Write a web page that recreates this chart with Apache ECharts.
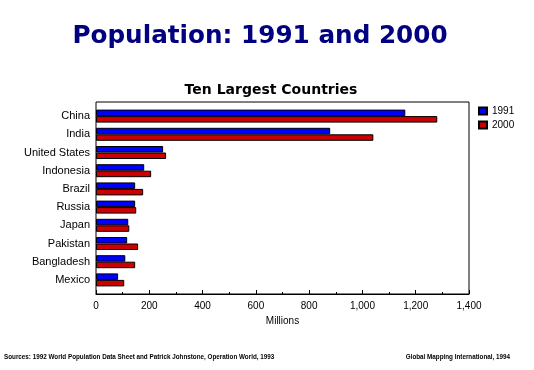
<!DOCTYPE html>
<html><head><meta charset="utf-8">
<script src="https://cdn.jsdelivr.net/npm/echarts@6/dist/echarts.min.js"></script>
<style>html,body{margin:0;padding:0;background:#fff}#c{width:534px;height:370px}</style>
</head><body><div id="c"></div>
<script>
const categories = ['China','India','United States','Indonesia','Brazil','Russia','Japan','Pakistan','Bangladesh','Mexico'];
const pop1991 = [1161, 879, 252, 181, 147, 147, 121, 117, 110, 83];
const pop2000 = [1281, 1041, 263, 207, 177, 151, 125, 158, 147, 106];
const seriesNames = ['1991', '2000'];
const xTicks = [0, 200, 400, 600, 800, 1000, 1200, 1400];

const chart = echarts.init(document.getElementById('c'), null, {renderer: 'canvas'});
const F = 'Liberation Sans, Arial, sans-serif';
chart.setOption({
  animation: false,
  backgroundColor: '#fff',
  title: [
    {text: 'Population: 1991 and 2000', left: 255, textAlign: 'center', top: 19,
     textStyle: {fontFamily: 'DejaVu Sans', fontWeight: 'bold', fontSize: 24.7, color: '#000080'}},
    {text: 'Ten Largest Countries', left: 266, textAlign: 'center', top: 78,
     textStyle: {fontFamily: 'DejaVu Sans', fontWeight: 'bold', fontSize: 14, color: '#000'}}
  ],
  legend: {
    data: seriesNames, orient: 'vertical', left: 473, top: 101,
    itemWidth: 8, itemHeight: 7, itemGap: 4, icon: 'rect',
    textStyle: {fontFamily: F, fontSize: 10, color: '#000'}
  },
  grid: [
    {left: 96, right: 65, top: 102, bottom: 76, show: true, borderColor: '#000', borderWidth: 1, backgroundColor: 'transparent'},
    {left: 96, right: 65, top: 107, bottom: 81}
  ],
  xAxis: [
    {type: 'value', gridIndex: 0, min: xTicks[0], max: xTicks[xTicks.length - 1], interval: 200,
     name: 'Millions', nameLocation: 'middle', nameGap: 22,
     nameTextStyle: {fontFamily: F, fontSize: 10, color: '#000'},
     axisLine: {show: true, lineStyle: {color: '#000', width: 1}},
     axisTick: {show: true, inside: true, length: 4, lineStyle: {color: '#000'}},
     minorTick: {show: true, splitNumber: 2, length: 2, lineStyle: {color: '#000'}},
     splitLine: {show: false},
     axisLabel: {fontFamily: F, fontSize: 10, color: '#000', margin: 7,
       formatter: v => v.toLocaleString('en-US')}},
    {type: 'value', gridIndex: 1, min: xTicks[0], max: xTicks[xTicks.length - 1], show: false}
  ],
  yAxis: [
    {type: 'value', gridIndex: 0, show: false},
    {type: 'category', gridIndex: 1, data: categories, inverse: true,
     axisLine: {show: false}, axisTick: {show: false},
     axisLabel: {fontFamily: F, fontSize: 11, color: '#000', margin: 6}}
  ],
  series: [
    {name: seriesNames[0], type: 'bar', xAxisIndex: 1, yAxisIndex: 1, data: pop1991,
     barWidth: 6.5, barGap: '0%',
     itemStyle: {color: '#0000ff', borderColor: '#000', borderWidth: 1}},
    {name: seriesNames[1], type: 'bar', xAxisIndex: 1, yAxisIndex: 1, data: pop2000,
     barWidth: 6.5, barGap: '0%',
     itemStyle: {color: '#cc0000', borderColor: '#000', borderWidth: 1}}
  ],
  graphic: [
    {type: 'text', left: 4, top: 354, style: {text: 'Sources: 1992 World Population Data Sheet and Patrick Johnstone, Operation World, 1993',
      font: 'bold 6.3px Liberation Sans, Arial, sans-serif', fill: '#000'}},
    {type: 'text', right: 24, top: 354, style: {text: 'Global Mapping International, 1994',
      font: 'bold 6.3px Liberation Sans, Arial, sans-serif', fill: '#000'}}
  ]
});
</script></body></html>
